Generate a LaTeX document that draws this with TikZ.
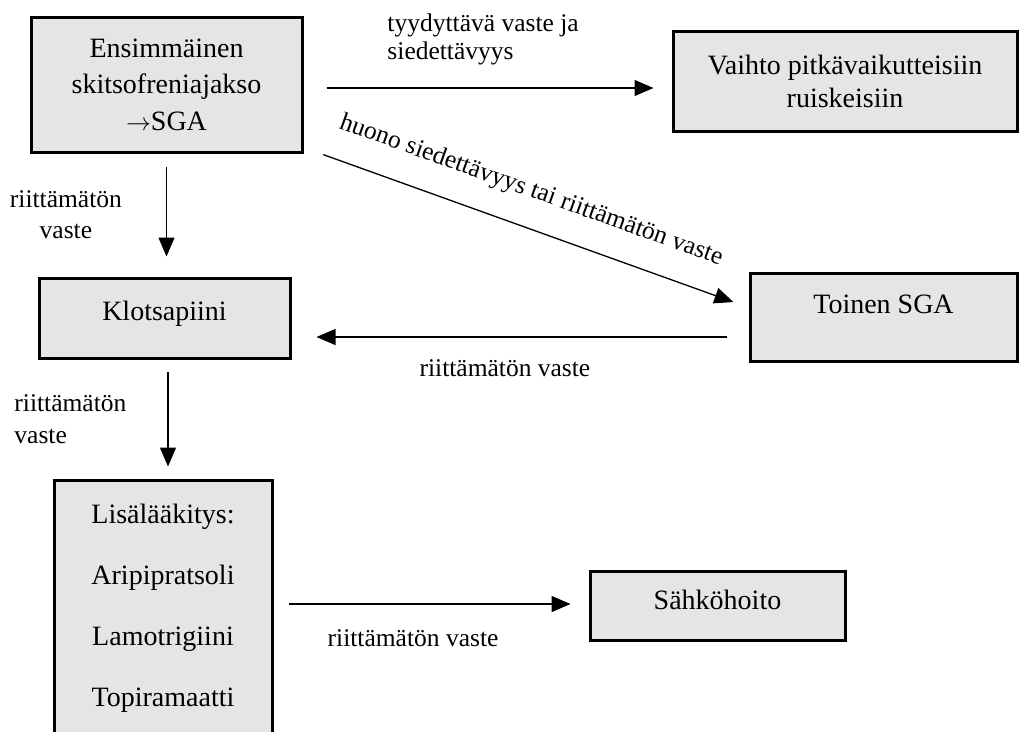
\documentclass[tikz,border=0pt]{standalone}
\usepackage{fontspec}
\setmainfont{Liberation Serif}
\usetikzlibrary{arrows.meta}

\begin{document}
\begin{tikzpicture}[x=1pt,y=-1pt,>={Triangle[length=19pt,width=16pt]},line width=1.3pt]
		\tikzstyle{box}=[rectangle,draw=black,fill=black!10,line width=3pt,align=center,
			font=\fontsize{28}{36.5}\selectfont]
		\tikzstyle{edgetext}=[inner sep=0pt,font=\fontsize{25.5}{31}\selectfont]
		\clip (0,0) rectangle (1019,731);
		
		\node[box,minimum width=271pt,minimum height=135pt]	(FirstEp)		at (166.5,84.5)	{Ensimmäinen\\skitsofreniajakso\\$\rightarrow$SGA};
		\node[box,minimum width=344pt,minimum height=100pt,font=\fontsize{28}{33}\selectfont]
																(LongActing)	at (845,81)		{Vaihto pitkävaikutteisiin\\ruiskeisiin};
		\node[box,minimum width=251pt,minimum height=80pt,text depth=14pt]
																(Clozapine)		at (164.5,318)	{Klotsapiini};
		\node[box,minimum width=267pt,minimum height=88pt,text depth=25pt]
																(SecondSGA)		at (883.5,317)	{Toinen SGA};
		\node[box,minimum width=218pt,minimum height=256pt,font=\fontsize{28}{61}\selectfont]
																(AddOn)			at (163,608)	{Lisälääkitys:\\Aripipratsoli\\Lamotrigiini\\Topiramaatti};
		\node[box,minimum width=255pt,minimum height=69pt,text depth=12pt]
																(Ect)			at (717.5,605.5) {Sähköhoito};
		
		% hoitopolku
		\draw[->,shorten <=23pt,shorten >=18pt] ([yshift=-3.5pt]FirstEp.east) -- ([yshift=-7pt]LongActing.west)
			node[edgetext,above=22pt,pos=.488,align=left,font=\fontsize{25.5}{28}\selectfont] {tyydyttävä vaste ja\\siedettävyys};
		\draw[->,shorten <=21pt,shorten >=16pt] ([yshift=6pt]FirstEp.south east) -- ([yshift=9.5pt]SecondSGA.west)
			node[edgetext,sloped,above=24pt,pos=.484] {huono siedettävyys tai riittämätön vaste};
		\draw[->,shorten <=13pt,shorten >=20pt] (FirstEp.south) -- (FirstEp.south |- Clozapine.north)
			node[edgetext,left=44pt,midway,align=center] {riittämätön\\vaste};
		\draw[->,shorten <=22pt,shorten >=25pt] ([yshift=-20pt]SecondSGA.west) -- ([yshift=-19pt]Clozapine.east)
			node[edgetext,below=22pt,pos=.533] {riittämätön vaste};
		\draw[->,shorten <=12pt,shorten >=12pt] ([xshift=3.5pt]Clozapine.south) -- ([xshift=3.5pt]Clozapine.south |- AddOn.north)
			node[edgetext,left=41pt,midway,align=left,font=\fontsize{25.5}{32}\selectfont] {riittämätön\\vaste};
		\draw[->,shorten <=15pt,shorten >=18pt] ([yshift=4pt]AddOn.east) -- ([yshift=1.5pt]Ect.west)
			node[edgetext,below=25pt,pos=.443] {riittämätön vaste};
		\end{tikzpicture}
\end{document}
